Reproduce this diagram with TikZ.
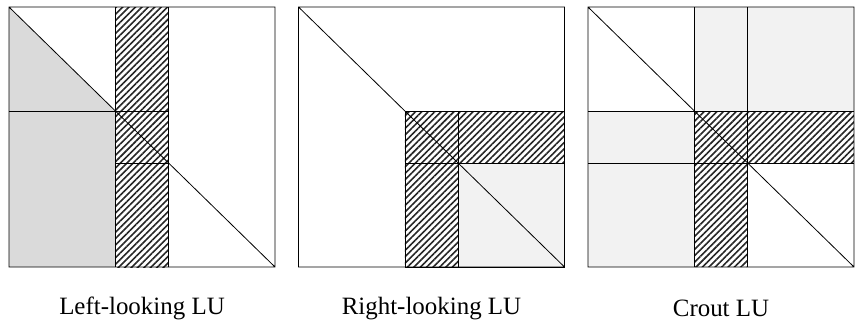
\documentclass[tikz,border=0pt]{standalone}
\usepackage{fontspec}
\setmainfont{Liberation Serif}
\usepackage{tikz}
\usetikzlibrary{patterns.meta}
\definecolor{ludark}{HTML}{DADADA}
\definecolor{lulight}{HTML}{F2F2F2}

\begin{document}
\begin{tikzpicture}[x=0.75pt, y=-0.75pt,
  blk/.style={draw=black, line width=0.6pt},
  hatch/.style={pattern={Lines[angle=45, distance=3.4pt, line width=1.2pt]}, pattern color=black!85},
  lbl/.style={font=\fontsize{18.7}{22}\selectfont, inner sep=0pt}]
  \useasboundingbox (0,0) rectangle (855,322);
  % left-looking
  \begin{scope}[shift={(9,7)}, x=199.5pt, y=-195pt]
    \fill[ludark] (0,0) -- (0.4,0.4) -- (0.4,1) -- (0,1) -- cycle;
    \fill[hatch] (0.4,0) rectangle (0.6,1);
    \draw[blk] (0.4,0) -- (0.4,1) (0.6,0) -- (0.6,1);
    \draw[blk] (0,0.4) -- (0.6,0.4) (0.4,0.6) -- (0.6,0.6);
    \draw[blk] (0,0) rectangle (1,1) (0,0) -- (1,1);
    \node[lbl] (lblLeft) at (0.5,1.16) {Left-looking LU};
  \end{scope}
  % right-looking
  \begin{scope}[shift={(298.5,7)}, x=199.5pt, y=-195pt]
    \fill[lulight] (0.6,0.6) rectangle (1,1);
    \fill[hatch] (0.4,0.4) rectangle (1,0.6) (0.4,0.6) rectangle (0.6,1);
    \draw[blk] (0.4,0.4) rectangle (1,1);
    \draw[blk] (0.4,0.6) -- (1,0.6) (0.6,0.4) -- (0.6,1);
    \draw[blk] (0,0) rectangle (1,1) (0,0) -- (1,1);
    \node[lbl] (lblRight) at (0.5,1.16) {Right-looking LU};
  \end{scope}
  % crout
  \begin{scope}[shift={(588,7)}, x=199.5pt, y=-195pt]
    \fill[lulight] (0.4,0) rectangle (1,0.4) (0,0.4) rectangle (0.4,1);
    \fill[hatch] (0.4,0.4) rectangle (1,0.6) (0.4,0.6) rectangle (0.6,1);
    \foreach \t in {0.4,0.6}
      \draw[blk] (0,\t) -- (1,\t) (\t,0) -- (\t,1);
    \draw[blk] (0,0) rectangle (1,1) (0,0) -- (1,1);
    \node[lbl] (lblCrout) at (0.5,1.16) {Crout LU};
  \end{scope}
\end{tikzpicture}
\end{document}
